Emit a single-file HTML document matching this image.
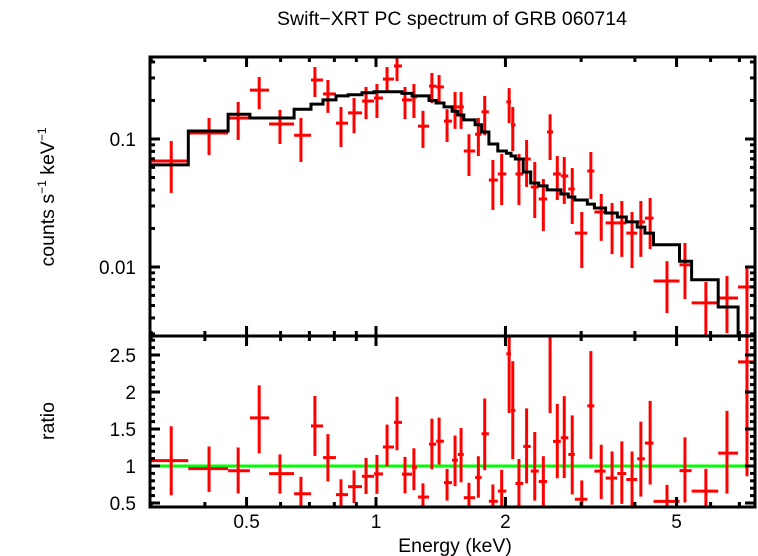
<!DOCTYPE html>
<html><head><meta charset="utf-8"><style>
html,body{margin:0;padding:0;background:#fff;}
svg{display:block;font-family:"Liberation Sans",sans-serif;}
</style></head><body>
<svg id="chart" width="758" height="556" viewBox="0 0 758 556" xmlns="http://www.w3.org/2000/svg">
<text x="452" y="25" font-size="19.5" text-anchor="middle">Swift−XRT PC spectrum of GRB 060714</text>
<text transform="translate(54,197) rotate(-90)" font-size="19.5" text-anchor="middle">counts s<tspan font-size="12" dy="-8">−1</tspan><tspan dy="8"> keV</tspan><tspan font-size="12" dy="-8">−1</tspan></text>
<text transform="translate(54,421) rotate(-90)" font-size="19.5" text-anchor="middle">ratio</text>
<text x="455" y="552" font-size="19.5" text-anchor="middle">Energy (keV)</text>
<g id="top-data"></g>
<g id="bot-data"></g>
<g id="axes"></g>
</svg>
<script>
// Energy bins (keV)
const eCenter=[0.334,0.409,0.478,0.535,0.598,0.669,0.721,0.773,0.829,0.889,0.948,1.005,1.061,1.119,1.168,1.225,1.286,1.349,1.402,1.463,
1.527,1.577,1.645,1.73,1.79,1.87,1.96,2.04,2.08,2.15,2.24,2.34,2.45,2.54,2.64,2.74,2.86,3.01,3.16,3.34,3.54,3.73,3.94,4.13,4.34,4.75,5.23,5.85,6.55,7.29];
const eLo=[0.295,0.366,0.453,0.509,0.564,0.645,0.706,0.753,0.807,0.861,0.928,0.989,1.038,1.101,1.149,1.213,1.252,1.328,1.380,1.439,
1.503,1.55,1.60,1.70,1.76,1.83,1.92,2.01,2.06,2.11,2.20,2.29,2.39,2.50,2.58,2.69,2.80,2.90,3.10,3.22,3.42,3.64,3.82,4.05,4.22,4.42,5.08,5.42,6.25,6.95];
const eHi=[0.366,0.453,0.509,0.564,0.645,0.706,0.753,0.807,0.861,0.928,0.989,1.038,1.101,1.149,1.213,1.245,1.328,1.380,1.439,1.503,
1.55,1.60,1.70,1.76,1.83,1.92,2.01,2.06,2.11,2.20,2.29,2.39,2.50,2.58,2.69,2.80,2.90,3.10,3.22,3.42,3.64,3.82,4.05,4.22,4.42,5.08,5.42,6.25,6.95,7.7];
// Data flux (counts/s/keV)
const flux=[0.0673,0.1114,0.146,0.241,0.131,0.107,0.289,0.225,0.133,0.160,0.198,0.209,0.294,0.372,0.202,0.213,0.126,0.259,0.255,0.138,
0.178,0.178,0.0806,0.109,0.163,0.0478,0.0533,0.195,0.129,0.0533,0.0698,0.0422,0.034,0.1135,0.0533,0.0514,0.0407,0.0184,0.0562,0.0269,0.0221,0.0221,0.0184,0.0225,0.0241,0.00777,0.0104,0.00524,0.00572,0.00698];
const fluxLo=[0.0379,0.075,0.0982,0.171,0.0914,0.0661,0.213,0.160,0.0866,0.111,0.143,0.146,0.233,0.284,0.143,0.146,0.0851,0.191,0.195,0.0948,
0.120,0.120,0.0514,0.0736,0.107,0.0279,0.0305,0.133,0.0806,0.0305,0.0422,0.0241,0.0191,0.0686,0.0334,0.0311,0.0217,0.0098,0.034,0.016,0.0126,0.012,0.0098,0.012,0.0138,0.00437,0.00562,0.0025,0.00305,0.0025];
const fluxHi=[0.0964,0.146,0.195,0.305,0.169,0.146,0.365,0.289,0.178,0.209,0.255,0.269,0.365,0.453,0.255,0.269,0.166,0.328,0.316,0.171,
0.233,0.233,0.109,0.146,0.217,0.0686,0.0764,0.250,0.178,0.0764,0.0982,0.0661,0.0487,0.156,0.0736,0.0723,0.0593,0.0269,0.0791,0.0372,0.0316,0.0328,0.0269,0.0328,0.0346,0.0111,0.0154,0.00764,0.0085,0.01];
// Folded model per bin
const model=[0.0627,0.1155,0.156,0.146,0.146,0.171,0.1875,0.202,0.217,0.222,0.23,0.234,0.234,0.234,0.227,0.217,0.217,0.2,0.191,0.178,
0.165,0.154,0.141,0.129,0.1135,0.0914,0.0806,0.0775,0.0737,0.0698,0.0552,0.0453,0.043,0.040,0.040,0.0372,0.0352,0.0334,0.031,0.0289,0.0264,0.0246,0.0225,0.0205,0.0184,0.0149,0.0111,0.00794,0.00487,0.0029];
const xMajor=[0.5,1,2,5];
const xMinor=[0.3,0.4,0.6,0.7,0.8,0.9,3,4,6,7];
const yMajorTop=[0.01,0.1];
const ratioMajor=[0.5,1,1.5,2,2.5];

const L=150,R=755,T=57,M=336,B=507;
const NS='http://www.w3.org/2000/svg';
function X(e){return 376+430*Math.log10(e);}
function YT(f){return 139-128*(Math.log10(f)+1);}
function YB(r){return 466-74*(r-1);}
function mk(tag,attrs,parent){const el=document.createElementNS(NS,tag);for(const k in attrs)el.setAttribute(k,attrs[k]);parent.appendChild(el);return el;}
const gT=document.getElementById('top-data'),gB=document.getElementById('bot-data'),gA=document.getElementById('axes');
const red='#ff0000';
const defs=mk('defs',{},document.getElementById('chart'));
const c1=mk('clipPath',{id:'ct'},defs);mk('rect',{x:L,y:T,width:R-L,height:M-T},c1);
const c2=mk('clipPath',{id:'cb'},defs);mk('rect',{x:L,y:M,width:R-L,height:B-M},c2);
gT.setAttribute('clip-path','url(#ct)');gB.setAttribute('clip-path','url(#cb)');
for(let i=0;i<eCenter.length;i++){
  const g=mk('g',{},gT);
  
  
  const cx=X(eCenter[i]),cy=YT(flux[i]);
  mk('line',{x1:X(eLo[i]),x2:X(eHi[i]),y1:cy,y2:cy,stroke:red,'stroke-width':3},g);
  mk('line',{x1:cx,x2:cx,y1:YT(fluxLo[i]),y2:YT(fluxHi[i]),stroke:red,'stroke-width':3},g);
}
let d='';
for(let i=0;i<model.length;i++){
  const y=YT(model[i]);
  d+=(i==0?'M':'L')+X(eLo[i]).toFixed(1)+','+y.toFixed(1)+' L'+X(eHi[i]).toFixed(1)+','+y.toFixed(1)+' ';
}
d+='L'+X(eHi[model.length-1]).toFixed(1)+','+(M+10);
const mp=mk('path',{d:d,fill:'none',stroke:'#000','stroke-width':3},gT);


const gl=mk('line',{x1:L,x2:R,y1:YB(1),y2:YB(1),stroke:'#00ff00','stroke-width':3},gB);


for(let i=0;i<eCenter.length;i++){
  const g=mk('g',{},gB);
  
  
  const r=flux[i]/model[i],rl=fluxLo[i]/model[i],rh=fluxHi[i]/model[i];
  const cx=X(eCenter[i]),cy=YB(r);
  mk('line',{x1:X(eLo[i]),x2:X(eHi[i]),y1:cy,y2:cy,stroke:red,'stroke-width':3},g);
  mk('line',{x1:cx,x2:cx,y1:YB(rl),y2:YB(rh),stroke:red,'stroke-width':3},g);
}
mk('rect',{x:L,y:T,width:R-L,height:M-T,fill:'none',stroke:'#000','stroke-width':3},gA);
mk('rect',{x:L,y:M,width:R-L,height:B-M,fill:'none',stroke:'#000','stroke-width':3},gA);
function tk(x1,y1,x2,y2){mk('line',{x1:x1,y1:y1,x2:x2,y2:y2,stroke:'#000','stroke-width':3},gA);}
[[T,M],[M,B]].forEach(p=>{
  xMajor.forEach(e=>{const x=X(e);tk(x,p[0],x,p[0]+10);tk(x,p[1],x,p[1]-10);});
  xMinor.forEach(e=>{const x=X(e);tk(x,p[0],x,p[0]+5);tk(x,p[1],x,p[1]-5);});
});
xMajor.forEach(e=>{const t=mk('text',{x:X(e),y:B+21,'font-size':19,'text-anchor':'middle'},gA);t.textContent=String(e);
  });
for(let dec=-3;dec<=-1;dec++){for(let m=1;m<10;m++){const v=m*Math.pow(10,dec);const y=YT(v);if(y<T||y>M)continue;
  const len=(m==1)?10:5;tk(L,y,L+len,y);tk(R,y,R-len,y);}}
yMajorTop.forEach(v=>{const t=mk('text',{x:136,y:YT(v)+7,'font-size':19,'text-anchor':'end'},gA);t.textContent=String(v);
  });
for(let k=5;k<=27;k++){const v=k/10;const y=YB(v);if(y<M||y>B)continue;const len=(k%5==0)?10:5;tk(L,y,L+len,y);tk(R,y,R-len,y);}
ratioMajor.forEach(v=>{const t=mk('text',{x:136,y:YB(v)+7,'font-size':19,'text-anchor':'end'},gA);t.textContent=String(v);
  });
</script>
</body></html>
